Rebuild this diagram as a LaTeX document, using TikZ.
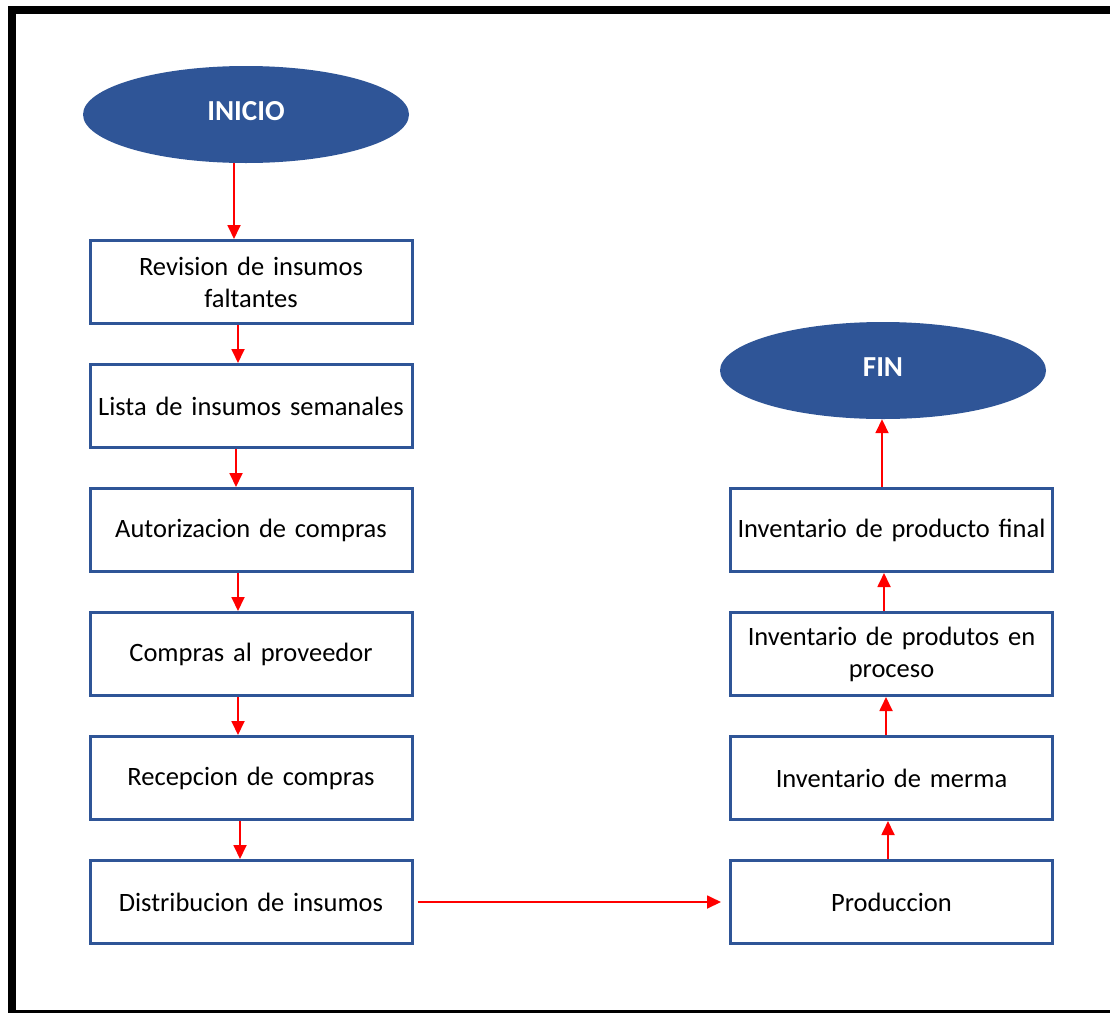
\documentclass[tikz,border=0pt]{standalone}
\usepackage{fontspec}
\setmainfont{Carlito}
\usetikzlibrary{shapes.geometric,arrows.meta}
\definecolor{fcblue}{HTML}{2F5597}
\definecolor{fcred}{HTML}{FF0000}
\tikzset{
  stepbox/.style={draw=fcblue, line width=3pt, fill=white, minimum width=322pt, minimum height=83pt,
    inner sep=0pt, align=center, text width=318pt, font=\fontsize{26.5}{32}\selectfont},
  term/.style={ellipse, fill=fcblue, minimum width=326pt, minimum height=97pt, inner sep=0pt,
    text=white, text height=19pt, text depth=8pt, font=\fontsize{29}{32}\selectfont\bfseries},
  arr/.style={draw=fcred, line width=1.8pt, -{Triangle[width=13pt,length=14pt]}, fcred},
}
\begin{document}
\begin{tikzpicture}[x=1pt,y=-1pt]
\useasboundingbox (0,0) rectangle (1110,1012);
\fill[white] (0,0) rectangle (1110,1012);
\draw[line width=8pt] (12,10) rectangle (1114,1014);

\node[term] (inicio) at (246,114.5) {INICIO};
\node[stepbox] (b1) at (251,282) {Revision de insumos\\faltantes};
\node[stepbox] (b2) at (251,406) {Lista de insumos semanales};
\node[stepbox] (b3) at (251,530) {Autorizacion de compras};
\node[stepbox] (b4) at (251,654) {Compras al proveedor};
\node[stepbox] (b5) at (251,778) {Recepcion de compras};
\node[stepbox] (b6) at (251,902) {Distribucion de insumos};

\node[stepbox] (r1) at (891.5,902) {Produccion};
\node[stepbox] (r2) at (891.5,778) {Inventario de merma};
\node[stepbox] (r3) at (891.5,654) {Inventario de produtos en\\proceso};
\node[stepbox] (r4) at (891.5,530) {Inventario de producto final};
\node[term] (fin) at (883,370.5) {FIN};

\draw[arr] ([xshift=-12pt]inicio.south) -- ([xshift=-17pt]b1.north);
\draw[arr] ([xshift=-13pt]b1.south) -- ([xshift=-13pt]b2.north);
\draw[arr] ([xshift=-15pt]b2.south) -- ([xshift=-15pt]b3.north);
\draw[arr] ([xshift=-13pt]b3.south) -- ([xshift=-13pt]b4.north);
\draw[arr] ([xshift=-13pt]b4.south) -- ([xshift=-13pt]b5.north);
\draw[arr] ([xshift=-11pt]b5.south) -- ([xshift=-11pt]b6.north);
\draw[arr] ([xshift=4pt]b6.east) -- ([xshift=-8pt]r1.west);
\draw[arr] ([xshift=-3.5pt]r1.north) -- ([xshift=-3.5pt]r2.south);
\draw[arr] ([xshift=-5.5pt]r2.north) -- ([xshift=-5.5pt]r3.south);
\draw[arr] ([xshift=-7.5pt]r3.north) -- ([xshift=-7.5pt]r4.south);
\draw[arr] ([xshift=-9.5pt]r4.north) -- ([xshift=-1pt]fin.south);
\end{tikzpicture}
\end{document}
